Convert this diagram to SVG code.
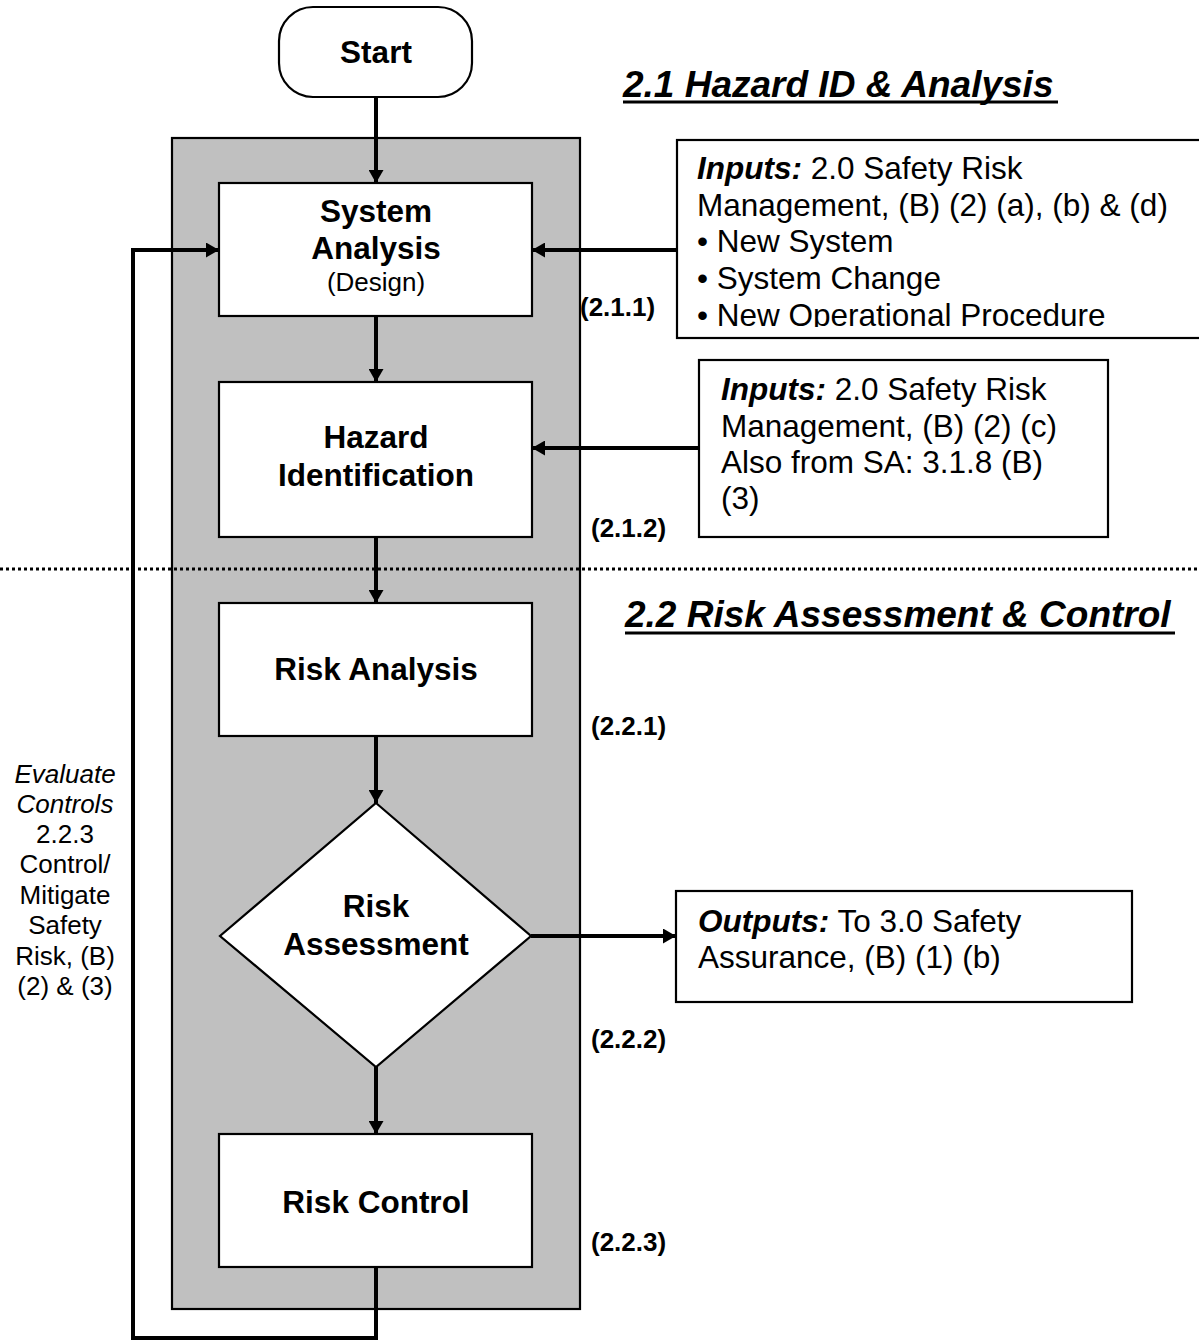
<svg xmlns="http://www.w3.org/2000/svg" width="1199" height="1341" viewBox="0 0 1199 1341">
  <style>
    .box { fill: #fff; stroke: #000; stroke-width: 2.2; }
    .conn { fill: none; stroke: #000; stroke-width: 4; }
    .lbl { font-family: "Liberation Sans", Arial, sans-serif; font-size: 31.5px; font-weight: bold; text-anchor: middle; fill: #000; }
    .sub { font-family: "Liberation Sans", Arial, sans-serif; font-size: 26px; text-anchor: middle; fill: #000; }
    .txt { font-family: "Liberation Sans", Arial, sans-serif; font-size: 31.5px; fill: #000; }
    .bi { font-weight: bold; font-style: italic; }
    .num { font-family: "Liberation Sans", Arial, sans-serif; font-size: 26px; font-weight: bold; fill: #000; }
    .title { font-family: "Liberation Sans", Arial, sans-serif; font-size: 37px; font-weight: bold; font-style: italic; fill: #000; }
    .side { font-family: "Liberation Sans", Arial, sans-serif; font-size: 26px; text-anchor: middle; fill: #000; }
  </style>
  <defs>
    <marker id="ah" viewBox="0 0 13 15" refX="13" refY="7.5" markerWidth="13" markerHeight="15" markerUnits="userSpaceOnUse" orient="auto">
      <path d="M0,0 L13,7.5 L0,15 z" fill="#000"/>
    </marker>
    <clipPath id="clipIn1">
      <rect x="677" y="140" width="530" height="187"/>
    </clipPath>
  </defs>

  <rect width="1199" height="1341" fill="#fff"/>

  <!-- gray process panel -->
  <g id="panel">
    <rect x="172" y="138" width="408" height="1171" fill="#c0c0c0" stroke="#000" stroke-width="2.2"/>
  </g>

  <!-- dotted separator -->
  <g id="separator">
    <line x1="0" y1="569" x2="1199" y2="569" stroke="#000" stroke-width="3" stroke-dasharray="3 3"/>
  </g>

  <!-- section titles -->
  <g id="title-21">
    <text class="title" x="623" y="97">2.1 Hazard ID &amp; Analysis</text>
    <line x1="623" y1="102" x2="1058" y2="102" stroke="#000" stroke-width="3"/>
  </g>
  <g id="title-22">
    <text class="title" x="625" y="627">2.2 Risk Assessment &amp; Control</text>
    <line x1="625" y1="633" x2="1175" y2="633" stroke="#000" stroke-width="3"/>
  </g>

  <!-- connectors -->
  <g id="connectors">
    <line class="conn" x1="376" y1="97" x2="376" y2="183" marker-end="url(#ah)"/>
    <line class="conn" x1="376" y1="316" x2="376" y2="382" marker-end="url(#ah)"/>
    <line class="conn" x1="376" y1="537" x2="376" y2="603" marker-end="url(#ah)"/>
    <line class="conn" x1="376" y1="736" x2="376" y2="803" marker-end="url(#ah)"/>
    <line class="conn" x1="376" y1="1067" x2="376" y2="1134" marker-end="url(#ah)"/>
    <line class="conn" x1="677" y1="250" x2="532" y2="250" marker-end="url(#ah)"/>
    <line class="conn" x1="699" y1="448" x2="532" y2="448" marker-end="url(#ah)"/>
    <line class="conn" x1="531" y1="936" x2="676" y2="936" marker-end="url(#ah)"/>
    <polyline class="conn" points="376,1267 376,1338 133,1338 133,250 219,250" marker-end="url(#ah)"/>
  </g>

  <!-- nodes -->
  <g id="start">
    <rect class="box" x="279" y="7" width="193" height="90" rx="34" ry="34"/>
    <text class="lbl" x="376" y="63">Start</text>
  </g>

  <g id="system-analysis">
    <rect class="box" x="219" y="183" width="313" height="133"/>
    <text class="lbl" x="376" y="222">System</text>
    <text class="lbl" x="376" y="259">Analysis</text>
    <text class="sub" x="376" y="291">(Design)</text>
  </g>

  <g id="hazard-identification">
    <rect class="box" x="219" y="382" width="313" height="155"/>
    <text class="lbl" x="376" y="448">Hazard</text>
    <text class="lbl" x="376" y="486">Identification</text>
  </g>

  <g id="risk-analysis">
    <rect class="box" x="219" y="603" width="313" height="133"/>
    <text class="lbl" x="376" y="680">Risk Analysis</text>
  </g>

  <g id="risk-assessment">
    <polygon class="box" points="376,803 531,936 376,1067 220,936"/>
    <text class="lbl" x="376" y="917">Risk</text>
    <text class="lbl" x="376" y="955">Assessment</text>
  </g>

  <g id="risk-control">
    <rect class="box" x="219" y="1134" width="313" height="133"/>
    <text class="lbl" x="376" y="1213">Risk Control</text>
  </g>

  <g id="inputs-1">
    <rect class="box" x="677" y="140" width="530" height="198"/>
    <g clip-path="url(#clipIn1)">
      <text class="txt" x="697" y="179"><tspan class="bi">Inputs:</tspan> 2.0 Safety Risk</text>
      <text class="txt" x="697" y="216">Management, (B) (2) (a), (b) &amp; (d)</text>
      <text class="txt" x="697" y="252">• New System</text>
      <text class="txt" x="697" y="289">• System Change</text>
      <text class="txt" x="697" y="326">• New Operational Procedure</text>
    </g>
  </g>

  <g id="inputs-2">
    <rect class="box" x="699" y="360" width="409" height="177"/>
    <text class="txt" x="721" y="400"><tspan class="bi">Inputs:</tspan> 2.0 Safety Risk</text>
    <text class="txt" x="721" y="437">Management, (B) (2) (c)</text>
    <text class="txt" x="721" y="473">Also from SA: 3.1.8 (B)</text>
    <text class="txt" x="721" y="509">(3)</text>
  </g>

  <g id="outputs">
    <rect class="box" x="676" y="891" width="456" height="111"/>
    <text class="txt" x="698" y="932"><tspan class="bi">Outputs:</tspan> To 3.0 Safety</text>
    <text class="txt" x="698" y="968">Assurance, (B) (1) (b)</text>
  </g>

  <!-- step numbers -->
  <g id="step-numbers">
    <text class="num" x="580" y="316">(2.1.1)</text>
    <text class="num" x="591" y="537">(2.1.2)</text>
    <text class="num" x="591" y="735">(2.2.1)</text>
    <text class="num" x="591" y="1048">(2.2.2)</text>
    <text class="num" x="591" y="1251">(2.2.3)</text>
  </g>

  <!-- feedback label -->
  <g id="feedback-label">
    <text class="side" x="65" y="783" font-style="italic">Evaluate</text>
    <text class="side" x="65" y="813" font-style="italic">Controls</text>
    <text class="side" x="65" y="843">2.2.3</text>
    <text class="side" x="65" y="873">Control/</text>
    <text class="side" x="65" y="904">Mitigate</text>
    <text class="side" x="65" y="934">Safety</text>
    <text class="side" x="65" y="965">Risk, (B)</text>
    <text class="side" x="65" y="995">(2) &amp; (3)</text>
  </g>
</svg>
